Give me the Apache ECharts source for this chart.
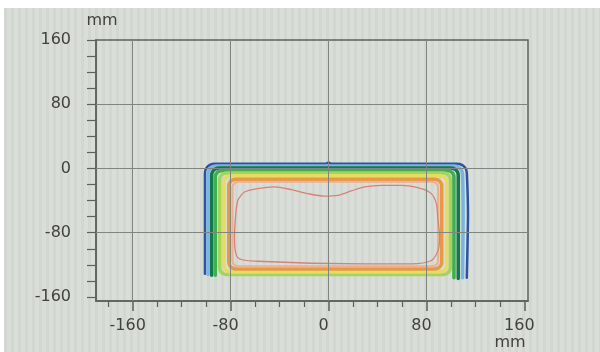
<!DOCTYPE html>
<html>
<head>
<meta charset="utf-8">
<script src="https://cdn.jsdelivr.net/npm/echarts@6/dist/echarts.min.js"></script>
<style>
  html, body { margin: 0; padding: 0; background: #ffffff; }
  #bg { position: absolute; left: 4px; top: 8px; width: 596px; height: 344px;
        background: repeating-linear-gradient(90deg, #d3d7d1 0px, #d3d7d1 3px, #dadeD8 3px, #dadeD8 7px); }
  #chart { position: absolute; left: 0; top: 0; width: 600px; height: 352px; }
</style>
</head>
<body>
<div id="bg"></div>
<div id="chart"></div>
<script>
// ---- axis ticks / labels (mm) ----
const xMajorTicks = [-160, -80, 0, 80, 160];
const xMinorTicks = [-180, -140, -120, -100, -60, -40, -20, 20, 40, 60, 100, 120, 140];
const yTicks = [-160, -140, -120, -100, -80, -60, -40, -20, 0, 20, 40, 60, 80, 100, 120, 140, 160];
const yMajorTicks = [-160, -80, 0, 80, 160];
const gridXValues = [-160, -80, 0, 80];
const gridYValues = [80, 0, -80];

// ---- isodose contours, [x mm, y mm], outermost first ----
const contourDarkBlue = [[-101,-131],[-101,-6],[-100,0],[-97,4.4],[-93,6],[-2,6],[0,7.5],[2,6],[105,6],[109,4.4],[112,0],[113,-6],[114,-60],[113,-136]];
const contourLightBlue = [[-98.5,-132],[-98.5,-7],[-97.6,-2],[-95,1.7],[-91.5,3],[102.5,3],[106,1.7],[108.6,-2],[109.5,-7],[110,-60],[109.5,-136]];
const contourDarkGreen = [[-95.5,-133],[-95.5,-8.5],[-94.7,-4],[-92.5,-0.7],[-89.5,0.5],[100,0.5],[103,-0.7],[105.2,-4],[106,-8.5],[106,-137]];
const contourGreen = [[-92.5,-133],[-92.5,-10.5],[-91.7,-6.5],[-89.5,-3.5],[-86.5,-2.5],[96.5,-2.5],[99.5,-3.5],[101.7,-6.5],[102.5,-10.5],[102.5,-136]];
const contourLightGreen = [[-89,-124],[-89,-13.5],[-88.2,-9.5],[-86,-6.5],[-83,-5.5],[93.5,-5.5],[96.5,-6.5],[98.7,-9.5],[99.5,-13.5],[99.5,-124],[98.7,-128],[96.5,-131],[93.5,-132],[-83,-132],[-86,-131],[-88.2,-128],[-89,-124]];
const contourYellow = [[-85.5,-121],[-85.5,-17],[-84.7,-13],[-82.5,-10],[-79.5,-9],[90.5,-9],[93.5,-10],[95.7,-13],[96.5,-17],[96.5,-121],[95.7,-125],[93.5,-128],[90.5,-129],[-79.5,-129],[-82.5,-128],[-84.7,-125],[-85.5,-121]];
const contourOrange = [[-81.5,-117],[-81.5,-21.5],[-80.7,-17.5],[-78.5,-14.5],[-75.5,-13.5],[86.5,-13.5],[89.5,-14.5],[91.7,-17.5],[92.5,-21.5],[92.5,-117],[91.7,-121],[89.5,-124],[86.5,-125],[-75.5,-125],[-78.5,-124],[-80.7,-121],[-81.5,-117]];
const contourSalmon = [[-78.5,-115],[-78.5,-23.5],[-77.8,-20],[-76,-17.4],[-73.5,-16.5],[84.5,-16.5],[87,-17.4],[88.8,-20],[89.5,-23.5],[89.5,-115],[88.8,-118.5],[87,-121.1],[84.5,-122],[-73.5,-122],[-76,-121.1],[-77.8,-118.5],[-78.5,-115]];
const contourInner = [[-74.2,-39.6],[-68.7,-29.3],[-57.8,-25],[-44.2,-23],[-30.5,-26.3],[-16.9,-31.3],[-3.3,-34.3],[7.6,-33.4],[18.6,-28],[29.4,-23],[43.1,-20.9],[59.5,-20.9],[75.8,-25],[84,-31.3],[88.1,-43.8],[89.4,-64.6],[90.8,-85.5],[89.4,-102],[84,-114.6],[67.6,-118.8],[29.4,-118.8],[-57.8,-115.5],[-74.2,-111],[-76.9,-85.5],[-75.5,-52],[-74.2,-39.6]];

const contours = [
  { name: 'c1', data: contourDarkBlue, color: '#2c54a3', width: 2.5 },
  { name: 'c2', data: contourLightBlue, color: '#78b6e2', width: 3.5 },
  { name: 'c3', data: contourDarkGreen, color: '#16784a', width: 3.5 },
  { name: 'c4', data: contourGreen, color: '#3cb04e', width: 3.5 },
  { name: 'c5', data: contourLightGreen, color: '#a4d45c', width: 3.5 },
  { name: 'c6', data: contourYellow, color: '#e6dc62', width: 3.5 },
  { name: 'c7', data: contourOrange, color: '#e59a45', width: 3.5 },
  { name: 'c8', data: contourSalmon, color: '#eeb08e', width: 2.2 },
  { name: 'c9', data: contourInner, color: '#d98078', width: 1.3, smooth: 0.3 }
];

const axisColor = '#5c615b';
const labelColor = '#41443e';
const font = 'DejaVu Sans';

const series = [{
  type: 'line', data: [], z: 1, silent: true,
  markLine: {
    silent: true, symbol: 'none', animation: false,
    label: { show: false },
    lineStyle: { color: '#80857f', width: 1, type: 'solid' },
    data: gridXValues.map(v => ({ xAxis: v })).concat(gridYValues.map(v => ({ yAxis: v })))
  }
}].concat(contours.map(c => ({
  type: 'line', name: c.name, data: c.data, z: 3,
  showSymbol: false, symbol: 'none', smooth: c.smooth || 0.15,
  lineStyle: { color: c.color, width: c.width, join: 'round', cap: 'round' },
  animation: false
})));

const chart = echarts.init(document.getElementById('chart'), null, { renderer: 'canvas' });
chart.setOption({
  animation: false,
  backgroundColor: 'transparent',
  grid: { left: 96, right: 72, top: 40, bottom: 51, show: true, borderColor: axisColor, borderWidth: 1.5, backgroundColor: 'transparent' },
  xAxis: [
    { type: 'value', min: -190, max: 163, position: 'bottom',
      axisLine: { show: true, onZero: false, lineStyle: { color: axisColor, width: 1.5 } },
      axisTick: { show: true, customValues: xMajorTicks, length: 10, lineStyle: { color: axisColor, width: 1.5 } },
      axisLabel: { show: true, customValues: xMajorTicks, margin: 17, color: labelColor, fontSize: 16, fontFamily: font, padding: [0, 10, 0, 0] },
      splitLine: { show: false } },
    { type: 'value', min: -190, max: 163, position: 'bottom',
      axisLine: { show: false, onZero: false },
      axisTick: { show: true, customValues: xMinorTicks, length: 6, lineStyle: { color: axisColor, width: 1.2 } },
      axisLabel: { show: false },
      splitLine: { show: false } }
  ],
  yAxis: [
    { type: 'value', min: -165, max: 160, position: 'left',
      axisLine: { show: true, onZero: false, lineStyle: { color: axisColor, width: 1.5 } },
      axisTick: { show: true, customValues: yTicks, length: 9, lineStyle: { color: axisColor, width: 1.2 } },
      axisLabel: { show: true, customValues: yMajorTicks, margin: 25, color: labelColor, fontSize: 16, fontFamily: font },
      splitLine: { show: false } }
  ],
  graphic: [
    { type: 'text', x: 102, y: 20.5, style: { text: 'mm', font: '16px "DejaVu Sans"', fill: labelColor, textAlign: 'center', textVerticalAlign: 'middle' } },
    { type: 'text', x: 510, y: 343, style: { text: 'mm', font: '16px "DejaVu Sans"', fill: labelColor, textAlign: 'center', textVerticalAlign: 'middle' } }
  ],
  series: series
});
</script>
</body>
</html>
